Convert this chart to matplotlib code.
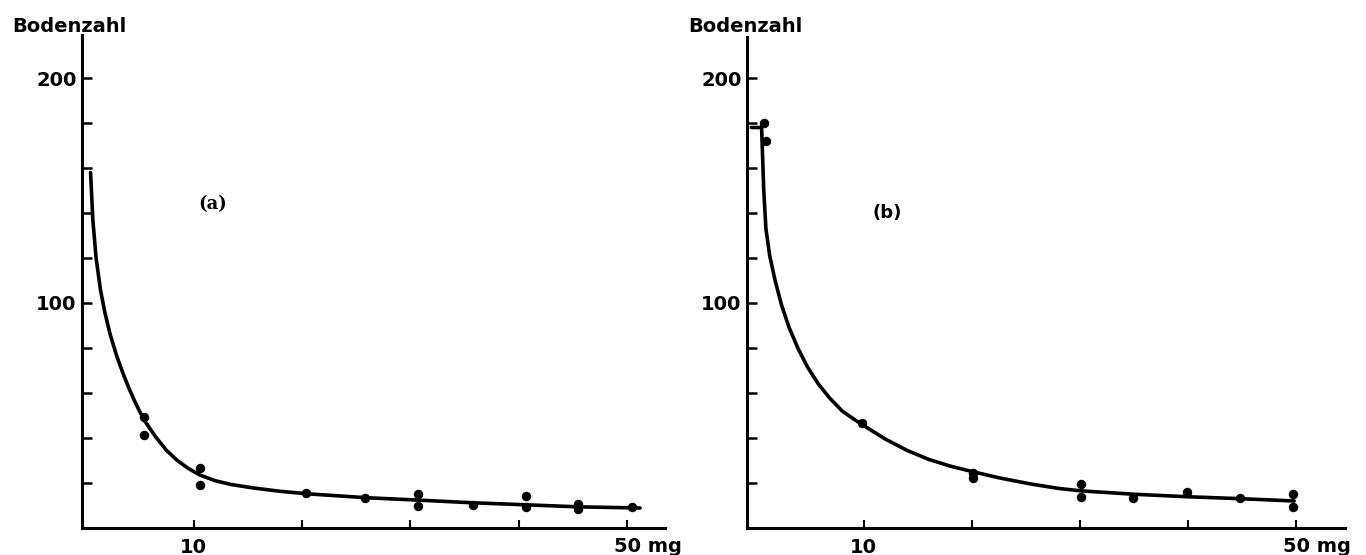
import matplotlib
matplotlib.use("Agg")
import matplotlib.pyplot as plt

# (a) measured points
a_x = [5.4, 5.4, 10.6, 10.6, 20.4, 25.8, 30.7, 30.7, 35.8, 40.7, 40.7, 45.5, 45.5, 50.5]
a_y = [49.3, 41.3, 26.7, 19.1, 15.6, 13.3, 15.1, 9.8, 10.2, 14.2, 9.3, 10.8, 8.3, 9.3]
# (a) hand drawn curve
a_cx = [0.49, 0.7, 1.0, 1.4, 1.8, 2.3, 2.9, 3.5, 4.0, 4.5, 5.0, 5.5, 6.5, 7.5, 8.5,
        9.5, 10.6, 12.0, 13.5, 15.5, 18.0, 20.5, 25.8, 30.7, 35.8, 40.7, 45.5, 51.2]
a_cy = [158, 137, 120, 106, 96, 86, 76.5, 68.5, 62.5, 57, 52, 47.5, 40.5, 34.5, 30,
        26.5, 23.5, 21, 19.3, 17.8, 16.3, 15.2, 13.5, 12.4, 11.2, 10.3, 9.4, 8.9]

# (b) measured points
b_x = [0.74, 0.93, 9.8, 20.1, 20.1, 30.1, 30.1, 34.9, 39.9, 44.8, 49.7, 49.7]
b_y = [180, 172, 46.7, 24.4, 22.2, 19.6, 13.8, 13.3, 16.0, 13.3, 15.1, 9.3]
# (b) hand drawn curve
b_cx = [-0.4, 0.55, 0.75, 0.95, 1.3, 1.8, 2.4, 3.1, 3.9, 4.8, 5.8, 6.8, 8.0, 9.2,
        10.5, 12.0, 14.0, 16.0, 18.0, 20.1, 22.5, 25.4, 28.0, 30.1, 35.0, 39.9,
        45.0, 49.8]
b_cy = [178, 178, 150, 133, 121, 110, 99, 89, 80, 71.5, 64, 58, 52, 48,
        44, 39.5, 34.5, 30.5, 27.5, 25, 22.3, 19.6, 17.6, 16.5, 15.0, 13.9,
        13.0, 12.0]

W, H = 1366, 555
fig = plt.figure(figsize=(W / 100, H / 100), dpi=100)
fig.patch.set_facecolor("white")


def panel(left_px, right_px, top_px, xlim, px, py, cx, cy, tag, tag_xy, tag_font):
    bottom_px = 528
    ax = fig.add_axes([left_px / W, (H - bottom_px) / H,
                       (right_px - left_px) / W, (bottom_px - top_px) / H])
    ax.set_xlim(*xlim)
    ax.set_ylim(0, (bottom_px - top_px) / 2.25)
    for s in ["top", "right"]:
        ax.spines[s].set_visible(False)
    for s in ["left", "bottom"]:
        ax.spines[s].set_linewidth(2.2)
    ax.plot(cx, cy, color="black", lw=2.6, solid_joinstyle="round",
            solid_capstyle="round", clip_on=False)
    ax.plot(px, py, "o", color="black", ms=5.8, clip_on=False)

    ax.set_yticks([100, 200])
    ax.set_yticklabels(["100", "200"])
    ax.set_yticks([20, 40, 60, 80, 120, 140, 160, 180], minor=True)
    ax.set_xticks([10, 20, 30, 40, 50])
    ax.set_xticklabels(["10", "", "", "", ""])
    ax.tick_params(axis="y", which="both", direction="in", length=7, width=1.8,
                   pad=4, labelsize=14)
    ax.tick_params(axis="x", direction="in", length=6, width=1.5, pad=7,
                   labelsize=14)
    for lab in ax.get_xticklabels() + ax.get_yticklabels():
        lab.set_fontweight("bold")
    ax.annotate("50 mg", xy=(50, 0), xycoords="data", xytext=(-13, -9),
                textcoords="offset pixels", ha="left", va="top",
                fontsize=14, fontweight="bold", annotation_clip=False)
    ax.text(tag_xy[0], tag_xy[1], tag, ha="center", va="center",
            fontsize=13, fontweight="bold", family=tag_font)
    return ax


panel(82, 665, 35, (-0.3, 53.5), a_x, a_y, a_cx, a_cy, "(a)", (11.75, 144), "DejaVu Serif")
panel(747, 1345, 37, (-0.8, 54.5), b_x, b_y, b_cx, b_cy, "(b)", (12.2, 140), "DejaVu Sans")

fig.text(12 / W, 1 - 32 / H, "Bodenzahl", fontsize=14, fontweight="bold", va="baseline")
fig.text(688 / W, 1 - 32 / H, "Bodenzahl", fontsize=14, fontweight="bold", va="baseline")

fig.savefig("out.png", dpi=100, facecolor="white")
